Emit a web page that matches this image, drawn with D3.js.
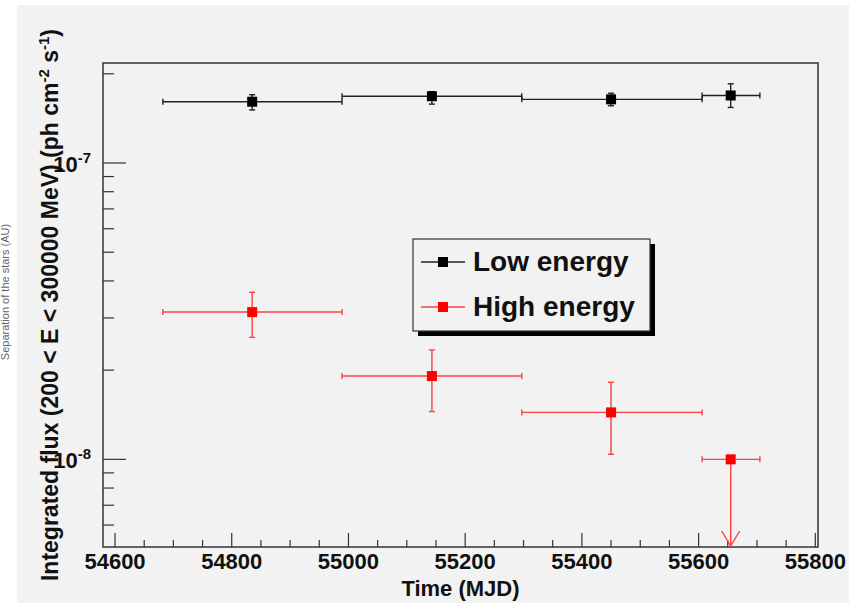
<!DOCTYPE html>
<html>
<head>
<meta charset="utf-8">
<script src="https://cdn.jsdelivr.net/npm/d3@7"></script>
<style>
  body { margin: 0; background: #ffffff; }
  svg { display: block; font-family: "Liberation Sans", Arial, sans-serif; }
</style>
</head>
<body>
<div class="flux-viz"></div>
<script>
// light curve, two energy bands
const binCenter = [54835, 55143, 55450, 55655];
const binLow    = [54682, 54989, 55297, 55606];
const binHigh   = [54989, 55297, 55606, 55705];

const lowFlux  = [1.61e-7, 1.68e-7, 1.64e-7, 1.69e-7];
const lowUp    = [1.70e-7, 1.74e-7, 1.72e-7, 1.85e-7];
const lowDown  = [1.51e-7, 1.58e-7, 1.56e-7, 1.54e-7];

const highFlux = [3.14e-8, 1.91e-8, 1.44e-8, 1.0e-8];
const highUp   = [3.66e-8, 2.34e-8, 1.82e-8, null];
const highDown = [2.58e-8, 1.45e-8, 1.04e-8, null];
const highLimit = [false, false, false, true];

const xTicks = [54600, 54800, 55000, 55200, 55400, 55600, 55800];
const yMajor = [1e-7, 1e-8];
const yMinor = [2e-7, 9e-8, 8e-8, 7e-8, 6e-8, 5e-8, 4e-8, 3e-8, 2e-8, 9e-9, 8e-9, 7e-9, 6e-9];
const legendLabels = ["Low energy", "High energy"];

const width = 849, height = 603;
const frame = {left: 103, top: 63, right: 818, bottom: 547};

const svg = d3.select(".flux-viz").append("svg")
    .attr("width", width)
    .attr("height", height);

// pad background
svg.append("rect")
    .attr("x", 17).attr("y", 5)
    .attr("width", width - 17).attr("height", height - 5)
    .attr("fill", "#f2f2f2");

// leftover label from a neighbouring pad at the far edge
svg.append("text")
    .attr("transform", "translate(9,292) rotate(-90)")
    .attr("text-anchor", "middle")
    .attr("font-size", "11px")
    .attr("fill", "#666")
    .text("Separation of the stars (AU)");

const x = d3.scaleLinear()
    .domain([54579.4, 55804.6])
    .range([frame.left, frame.right]);

const y = d3.scaleLog()
    .domain([5.06e-9, 2.175e-7])
    .range([frame.bottom, frame.top]);

// x ticks: major every 200, minor every 50
const xMinor = d3.range(54600, 55801, 50);
svg.append("g").selectAll("line")
    .data(xMinor)
    .enter()
    .append("line")
    .attr("x1", d => x(d)).attr("x2", d => x(d))
    .attr("y1", frame.bottom)
    .attr("y2", d => frame.bottom - (d % 200 === 0 ? 14 : 7))
    .attr("stroke", "#333").attr("stroke-width", 1.2);

svg.append("g").selectAll("text")
    .data(xTicks)
    .enter()
    .append("text")
    .attr("x", d => x(d))
    .attr("y", 569)
    .attr("text-anchor", "middle")
    .attr("font-size", "22px")
    .attr("font-weight", "bold")
    .attr("fill", "#111")
    .text(d => d);

// y ticks
svg.append("g").selectAll("line")
    .data(yMajor.concat(yMinor))
    .enter()
    .append("line")
    .attr("x1", frame.left)
    .attr("x2", d => frame.left + (yMajor.includes(d) ? 23 : 11))
    .attr("y1", d => y(d)).attr("y2", d => y(d))
    .attr("stroke", "#333").attr("stroke-width", 1.2);

const yLab = svg.append("g").selectAll("text")
    .data(yMajor)
    .enter()
    .append("text")
    .attr("x", 91)
    .attr("y", d => y(d) + 9)
    .attr("text-anchor", "end")
    .attr("font-size", "22px")
    .attr("font-weight", "bold")
    .attr("fill", "#111");
yLab.append("tspan").text("10");
yLab.append("tspan")
    .attr("dy", -9)
    .attr("font-size", "15px")
    .text(d => "-" + Math.round(-Math.log10(d)));

// frame
svg.append("rect")
    .attr("x", frame.left).attr("y", frame.top)
    .attr("width", frame.right - frame.left)
    .attr("height", frame.bottom - frame.top)
    .attr("fill", "none")
    .attr("stroke", "#333").attr("stroke-width", 1.5);

// axis titles
svg.append("text")
    .attr("x", (frame.left + frame.right) / 2)
    .attr("y", 596)
    .attr("text-anchor", "middle")
    .attr("font-size", "22px")
    .attr("font-weight", "bold")
    .attr("fill", "#111")
    .text("Time (MJD)");

const yTitle = svg.append("text")
    .attr("transform", "translate(58," + ((frame.top + frame.bottom) / 2) + ") rotate(-90)")
    .attr("text-anchor", "middle")
    .attr("font-size", "23px")
    .attr("font-weight", "bold")
    .attr("fill", "#111");
yTitle.append("tspan").text("Integrated flux (200 < E < 300000 MeV) (ph cm");
yTitle.append("tspan").attr("dy", -9).attr("font-size", "15px").text("-2");
yTitle.append("tspan").attr("dy", 9).text(" s");
yTitle.append("tspan").attr("dy", -9).attr("font-size", "15px").text("-1");
yTitle.append("tspan").attr("dy", 9).text(")");

function drawSeries(flux, up, down, limit, color, lineColor) {
    const g = svg.append("g");
    const pts = flux.map((f, i) => ({
        xc: binCenter[i], xl: binLow[i], xh: binHigh[i],
        f: f, up: up[i], down: down[i], limit: limit ? limit[i] : false
    }));
    const cap = 3;

    pts.forEach(p => {
        // horizontal bin width
        g.append("line")
            .attr("x1", x(p.xl)).attr("x2", x(p.xh))
            .attr("y1", y(p.f)).attr("y2", y(p.f))
            .attr("stroke", lineColor).attr("stroke-width", 1.4);
        [p.xl, p.xh].forEach(v => g.append("line")
            .attr("x1", x(v)).attr("x2", x(v))
            .attr("y1", y(p.f) - cap).attr("y2", y(p.f) + cap)
            .attr("stroke", lineColor).attr("stroke-width", 1.4));

        if (p.limit) {
            const yb = frame.bottom - 1;
            g.append("line")
                .attr("x1", x(p.xc)).attr("x2", x(p.xc))
                .attr("y1", y(p.f)).attr("y2", yb)
                .attr("stroke", lineColor).attr("stroke-width", 1.4);
            g.append("path")
                .attr("d", `M${x(p.xc) - 9},${yb - 15}L${x(p.xc)},${yb}L${x(p.xc) + 9},${yb - 15}`)
                .attr("fill", "none")
                .attr("stroke", lineColor).attr("stroke-width", 1.4);
        } else {
            g.append("line")
                .attr("x1", x(p.xc)).attr("x2", x(p.xc))
                .attr("y1", y(p.up)).attr("y2", y(p.down))
                .attr("stroke", lineColor).attr("stroke-width", 1.4);
            [p.up, p.down].forEach(v => g.append("line")
                .attr("x1", x(p.xc) - cap).attr("x2", x(p.xc) + cap)
                .attr("y1", y(v)).attr("y2", y(v))
                .attr("stroke", lineColor).attr("stroke-width", 1.4));
        }
    });

    g.selectAll("rect.marker")
        .data(pts)
        .enter()
        .append("rect")
        .attr("class", "marker")
        .attr("x", d => x(d.xc) - 5)
        .attr("y", d => y(d.f) - 5)
        .attr("width", 10).attr("height", 10)
        .attr("fill", color);
}

drawSeries(lowFlux, lowUp, lowDown, null, "#000", "#222");
drawSeries(highFlux, highUp, highDown, highLimit, "#ff0000", "#ff4040");

// legend with shadow
const lg = {x: 413, y: 239, w: 237, h: 92};
svg.append("rect")
    .attr("x", lg.x + 5).attr("y", lg.y + 5)
    .attr("width", lg.w).attr("height", lg.h)
    .attr("fill", "#000");
svg.append("rect")
    .attr("x", lg.x).attr("y", lg.y)
    .attr("width", lg.w).attr("height", lg.h)
    .attr("fill", "#f2f2f2")
    .attr("stroke", "#333").attr("stroke-width", 1.2);

const legendColors = [["#000", "#222"], ["#ff0000", "#ff4040"]];
const legendRows = svg.append("g").selectAll("g")
    .data(legendLabels)
    .enter()
    .append("g")
    .attr("transform", (d, i) => "translate(0," + (262 + i * 45) + ")");
legendRows.append("line")
    .attr("x1", 421).attr("x2", 465)
    .attr("stroke", (d, i) => legendColors[i][1]).attr("stroke-width", 1.4);
legendRows.append("rect")
    .attr("x", 438).attr("y", -5)
    .attr("width", 10).attr("height", 10)
    .attr("fill", (d, i) => legendColors[i][0]);
legendRows.append("text")
    .attr("x", 473).attr("y", 9)
    .attr("font-size", "28px")
    .attr("font-weight", "bold")
    .attr("fill", "#111")
    .text(d => d);
</script>
</body>
</html>
